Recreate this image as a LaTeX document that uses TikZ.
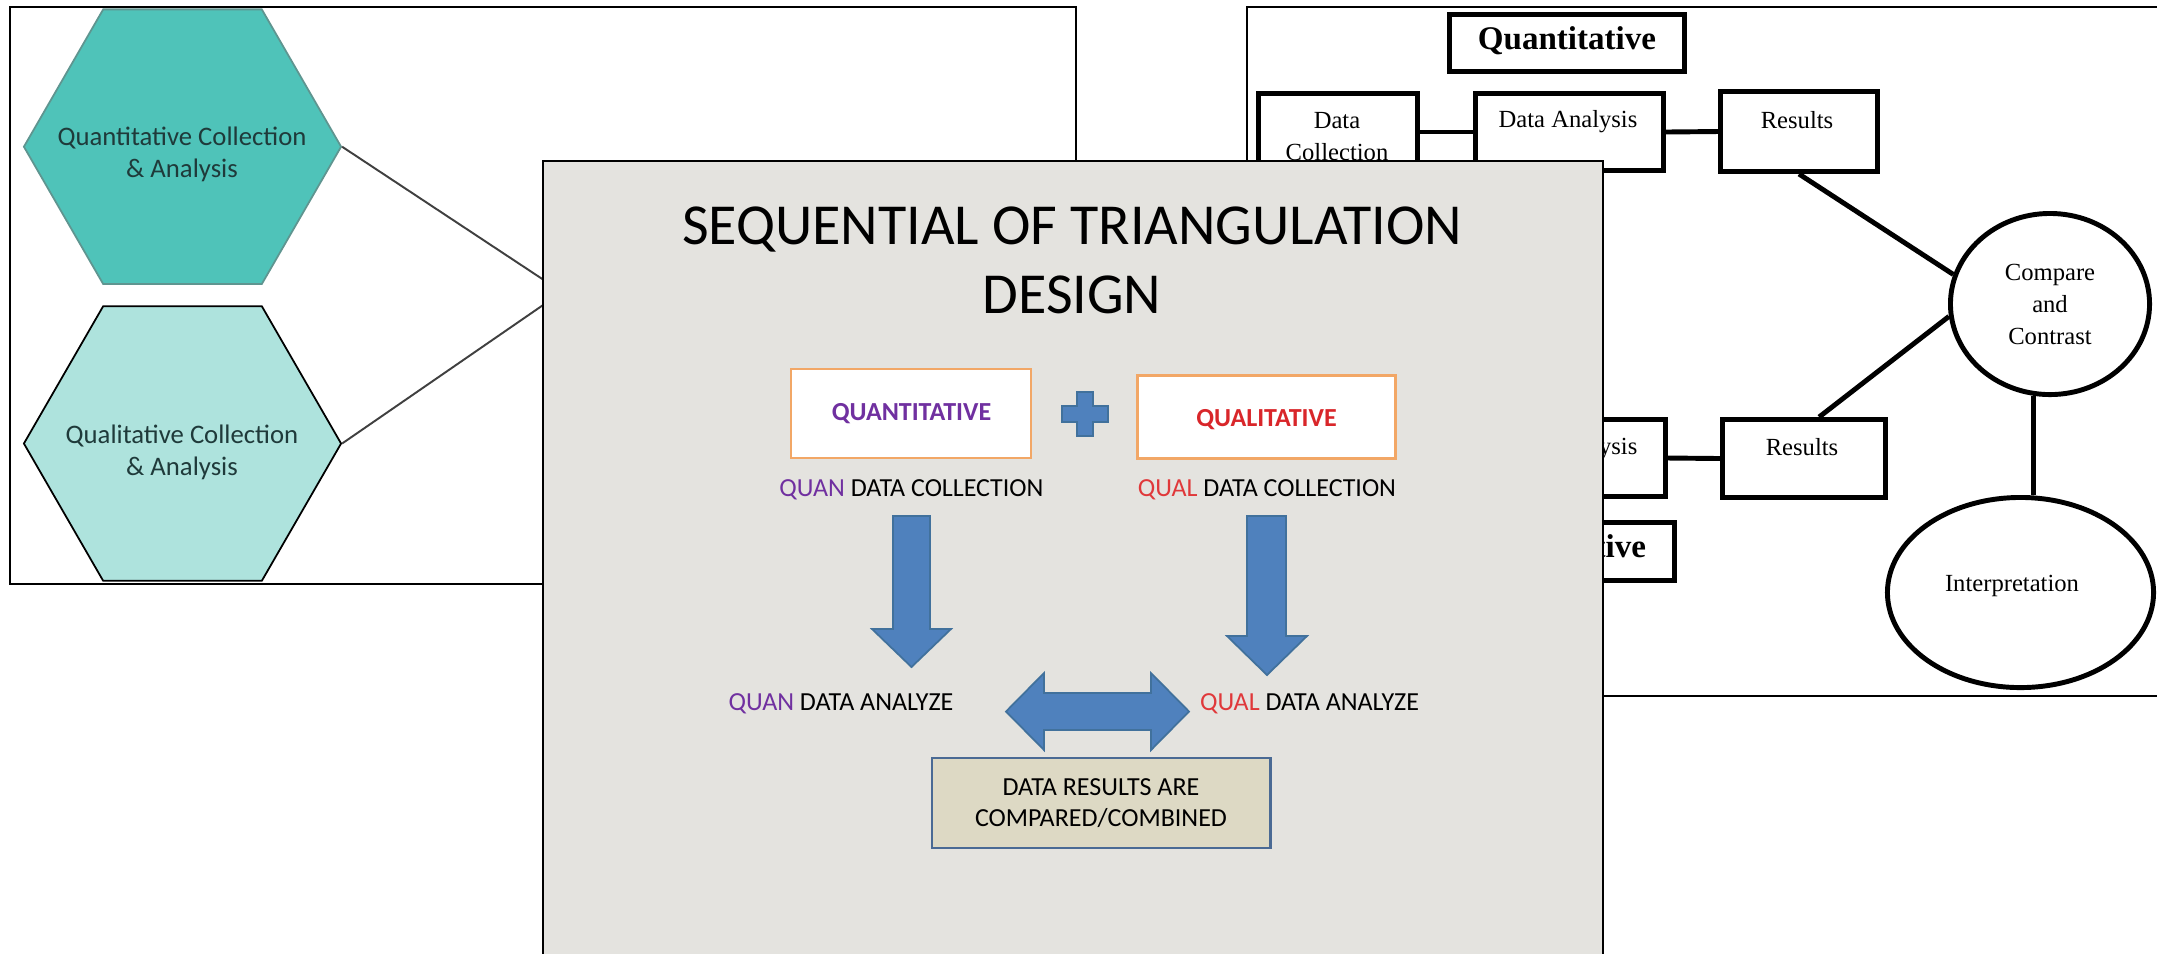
\documentclass[tikz,border=0pt]{standalone}
\usepackage{fontspec}
\setmainfont{Liberation Serif}
\newfontfamily\calib{Carlito}
\usetikzlibrary{shapes.geometric}

\definecolor{tealdark}{HTML}{4FC3B9}
\definecolor{tealedge}{HTML}{5F9590}
\definecolor{teallight}{HTML}{AEE3DD}
\definecolor{hextxt}{HTML}{1F3A3A}
\definecolor{slatebg}{HTML}{E4E3DF}
\definecolor{quanpurple}{HTML}{7030A0}
\definecolor{qualred}{HTML}{D9262A}
\definecolor{qualsoft}{HTML}{E0383A}
\definecolor{boxorange}{HTML}{F2A766}
\definecolor{arrowblue}{HTML}{4F81BD}
\definecolor{arrowedge}{HTML}{41719C}
\definecolor{tanfill}{HTML}{DDD9C4}
\definecolor{tanedge}{HTML}{4A6A94}

\tikzset{
  frame/.style={draw=black, line width=0.6pt, fill=white},
  hexa/.style={regular polygon, regular polygon sides=6, minimum size=3.17cm,
    inner sep=0pt, line width=0.5pt},
  hextext/.style={font=\calib\fontsize{7.6}{9.1}\selectfont, text=hextxt, align=center},
  hexlink/.style={draw=black!75, line width=0.55pt},
  rbox/.style={draw=black, line width=1.4pt, fill=white, inner sep=0pt},
  roval/.style={ellipse, draw=black, line width=1.4pt, fill=white, inner sep=0pt},
  rtext/.style={font=\fontsize{7}{9.1}\selectfont, align=center},
  rhead/.style={font=\bfseries\fontsize{9.4}{11}\selectfont},
  rlink/.style={draw=black, line width=1.4pt},
  slide/.style={draw=black, line width=0.6pt, fill=slatebg},
  titletext/.style={font=\calib\fontsize{16.5}{19.9}\selectfont, anchor=base},
  slidetext/.style={font=\calib\fontsize{7.4}{8.9}\selectfont, align=center},
  kindbox/.style={draw=boxorange, line width=0.7pt, fill=white, inner sep=0pt},
  kindlabel/.style={font=\calib\bfseries\fontsize{7.4}{8.9}\selectfont},
  blockarrow/.style={fill=arrowblue, draw=arrowedge, line width=0.5pt},
  resultbox/.style={draw=tanedge, line width=0.8pt, fill=tanfill, inner sep=0pt,
    font=\calib\fontsize{7.4}{8.8}\selectfont, align=center}
}

\begin{document}
\begin{tikzpicture}[x=0.01cm, y=-0.01cm]
\useasboundingbox (0,0) rectangle (2157,953);

% ---------- hexagon panel ----------
\draw[frame] (10,7) rectangle (1076,584);
\node[hexa, fill=tealdark, draw=tealedge] (hquan) at (182.5,146.7) {};
\node[hexa, fill=teallight, draw=black] (hqual) at (182.5,443.5) {};
\node[hextext] (hquantxt) at (182,154) {Quantitative Collection\\\& Analysis};
\node[hextext] (hqualtxt) at (182,452) {Qualitative Collection\\\& Analysis};
\coordinate (hub) at (562,292);
\draw[hexlink] (hquan.0) -- (hub) -- (hqual.0);

% ---------- flow chart panel ----------
\draw[frame] (1247,7) rectangle (2175,696);
\node[rbox, minimum width=2.35cm, minimum height=0.57cm] (quanhead) at (1567,43) {};
\node[rhead] at (1567,41) {Quantitative};

\node[rbox, minimum width=1.59cm, minimum height=0.77cm] (dcol) at (1338,132) {};
\node[rtext] at (1337,137) {Data\\Collection};
\node[rbox, minimum width=1.88cm, minimum height=0.77cm] (dana) at (1569.5,132) {};
\node[rtext] at (1568,122) {Data Analysis};
\node[rbox, minimum width=1.57cm, minimum height=0.80cm] (resA) at (1799,131.5) {};
\node[rtext] at (1797,120) {Results};

\node[rbox, minimum width=1.90cm, minimum height=0.77cm] (danb) at (1570.5,458) {};
\node[rtext] at (1568,449) {Data Analysis};
\node[rbox, minimum width=2.15cm, minimum height=0.58cm] (qualhead) at (1567,551.5) {};
\node[rhead] at (1567,549) {Qualitative};
\node[rbox, minimum width=1.63cm, minimum height=0.78cm] (resB) at (1804,458.5) {};
\node[rtext] at (1802,447) {Results};

\node[roval, minimum width=1.99cm, minimum height=1.81cm, rtext] (cmp) at (2050,304)
  {Compare\\and\\Contrast};
\node[roval, minimum width=2.66cm, minimum height=1.90cm] (interp) at (2020.5,592.5) {};
\node[rtext] at (2012,586) {Interpretation};

\draw[rlink] (dcol.east) -- (dana.west);
\draw[rlink] (dana.east) -- (resA.west);
\draw[rlink] (danb.east) -- (resB.west);
\draw[rlink] (resA.south) -- (cmp.163);
\draw[rlink] (resB.70) -- (cmp.187);
\draw[rlink] (cmp.260) -- (cmp.260 |- interp.north);

% ---------- slide panel ----------
\draw[slide] (543,161) rectangle (1603,990);
\node[titletext] (title1) at (1072,244) {SEQUENTIAL OF TRIANGULATION};
\node[titletext] (title2) at (1072,313) {DESIGN};

\node[kindbox, minimum width=2.40cm, minimum height=0.89cm] (quanbox) at (911,413.5) {};
\node[kindlabel, text=quanpurple] at (911.5,414) {QUANTITATIVE};
\node[kindbox, minimum width=2.58cm, minimum height=0.83cm] (qualbox) at (1266.5,417) {};
\node[kindlabel, text=qualred] at (1266.5,420) {QUALITATIVE};

% plus sign between the two boxes
\filldraw[blockarrow] (1077,392) -- (1093,392) -- (1093,406) -- (1108,406) -- (1108,422)
  -- (1093,422) -- (1093,436) -- (1077,436) -- (1077,422) -- (1062,422) -- (1062,406)
  -- (1077,406) -- cycle;

\node[slidetext] (quancol) at (911.5,490) {{\color{quanpurple}QUAN} DATA COLLECTION};
\node[slidetext] (qualcol) at (1267,490) {{\color{qualsoft}QUAL} DATA COLLECTION};
\node[slidetext] (quanana) at (841,704) {{\color{quanpurple}QUAN} DATA ANALYZE};
\node[slidetext] (qualana) at (1309.5,704) {{\color{qualsoft}QUAL} DATA ANALYZE};

% block arrows
\filldraw[blockarrow] (893,516) -- (930,516) -- (930,629) -- (951,629) -- (911.5,667)
  -- (872,629) -- (893,629) -- cycle;
\filldraw[blockarrow] (1247,516) -- (1286,516) -- (1286,636) -- (1307,636) -- (1267,675)
  -- (1227,636) -- (1247,636) -- cycle;
\filldraw[blockarrow] (1006,711.5) -- (1044,673) -- (1044,693) -- (1151,693) -- (1151,673)
  -- (1189,711.5) -- (1151,750) -- (1151,730) -- (1044,730) -- (1044,750) -- cycle;

\node[resultbox, minimum width=3.38cm, minimum height=0.90cm] (combined) at (1101,803)
  {DATA RESULTS ARE\\COMPARED/COMBINED};
\end{tikzpicture}
\end{document}
